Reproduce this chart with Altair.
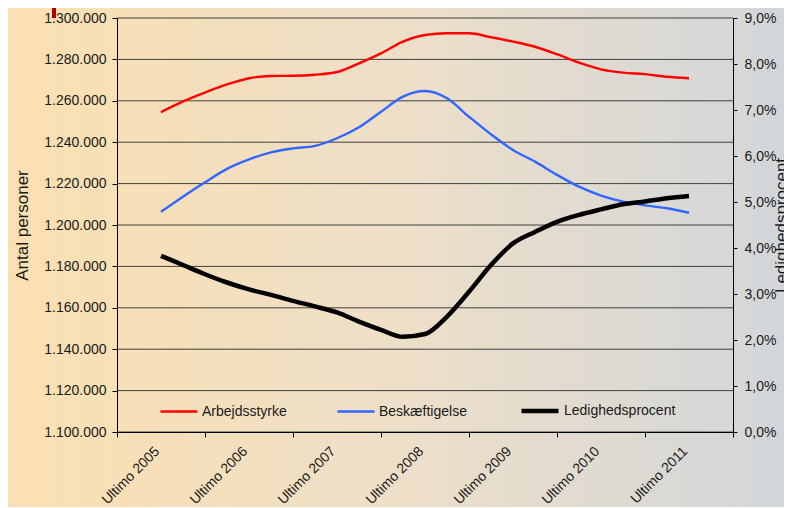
import altair as alt
import pandas as pd

# ---- data (quarterly points, 0 = Ultimo 2005) ----
quarters = [0, 0.25, 0.5, 0.75, 1, 1.25, 1.5, 1.75, 2, 2.25, 2.5, 2.75, 3,
            3.25, 3.5, 3.75, 4, 4.25, 4.5, 4.75, 5, 5.25, 5.5, 5.75, 6]
arbejdsstyrke = [1254500, 1259700, 1264000, 1267900, 1270900, 1272000, 1272100,
                 1272600, 1273900, 1278100, 1282900, 1288600, 1291800, 1292600,
                 1292600, 1290700, 1288600, 1286100, 1282500, 1278400, 1275200,
                 1273600, 1272900, 1271600, 1270900]
beskaeftigelse = [1206400, 1213700, 1220600, 1227100, 1231700, 1235100, 1237000,
                  1238200, 1241900, 1247200, 1254700, 1262000, 1264700, 1261200,
                  1252300, 1243800, 1236200, 1230600, 1224200, 1218500, 1214200,
                  1211300, 1209500, 1208100, 1205900]
ledighed = [0.0383, 0.0363, 0.0343, 0.0325, 0.0310, 0.0298, 0.0285, 0.0273,
            0.0260, 0.0240, 0.0222, 0.0207, 0.0213, 0.0251, 0.0305, 0.0363,
            0.0410, 0.0435, 0.0457, 0.0472, 0.0484, 0.0495, 0.0501, 0.0508,
            0.0513]

series_names = ["Arbejdsstyrke", "Beskæftigelse", "Ledighedsprocent"]
series_colors = ["#FF0000", "#3366FF", "#000000"]
series_widths = [2.4, 2.4, 4.5]
x_boundaries = [-0.5, 0.5, 1.5, 2.5, 3.5, 4.5, 5.5, 6.5]
left_ticks = [1100000, 1120000, 1140000, 1160000, 1180000, 1200000,
              1220000, 1240000, 1260000, 1280000, 1300000]
right_ticks = [0, 0.01, 0.02, 0.03, 0.04, 0.05, 0.06, 0.07, 0.08, 0.09]

df_left = pd.DataFrame({
    "t": quarters + quarters,
    "value": arbejdsstyrke + beskaeftigelse,
    "series": [series_names[0]] * len(quarters) + [series_names[1]] * len(quarters),
})
df_right = pd.DataFrame({
    "t": quarters,
    "value": ledighed,
    "series": [series_names[2]] * len(quarters),
})
df_grid = pd.DataFrame({"v": left_ticks})

W, H = 616, 414
PAD_L, PAD_T, PAD_R, PAD_B = 109, 10, 51, 75
FONT = "Liberation Sans"
LEFT_DOMAIN = [1100000, 1300000]

legend = alt.Legend(
    orient="none", legendX=42, legendY=372, direction="horizontal",
    title=None, padding=0, columnPadding=45, symbolType="stroke",
    symbolSize=1369, labelFontSize=14, labelOffset=3, labelColor="#1a1a1a",
    labelFont=FONT,
)
color_enc = alt.Color("series:N",
                      scale=alt.Scale(domain=series_names, range=series_colors),
                      legend=legend)
width_enc = alt.StrokeWidth("series:N",
                            scale=alt.Scale(type="ordinal", domain=series_names,
                                            range=series_widths),
                            legend=legend)

x_enc = alt.X(
    "t:Q",
    scale=alt.Scale(domain=[-0.5, 6.5], nice=False, zero=False),
    axis=alt.Axis(
        values=x_boundaries,
        labelExpr="datum.value < 6 ? 'Ultimo ' + (2005.5 + datum.value) : ''",
        labelOffset=35, labelAngle=315, tickSize=5, labelPadding=7,
        grid=False, title=None, labelFlush=False, labelOverlap=False,
        labelBound=False, labelFontSize=14, zindex=2,
    ),
)

background = alt.Chart(pd.DataFrame({"a": [0]})).mark_rect(
    fill=alt.Gradient(
        gradient="linear",
        stops=[alt.GradientStop(color="#FBE0B1", offset=0),
               alt.GradientStop(color="#EEDFC8", offset=0.5),
               alt.GradientStop(color="#D2D6DA", offset=1)],
        x1=0, x2=1, y1=0, y2=0,
    ),
    strokeWidth=0,
).encode(
    x=alt.value(-PAD_L), x2=alt.value(W + PAD_R),
    y=alt.value(-PAD_T), y2=alt.value(H + PAD_B),
)

marker = alt.Chart(pd.DataFrame({"a": [0]})).mark_rule(
    color="#B00000", strokeWidth=4
).encode(x=alt.value(-63), y=alt.value(-PAD_T), y2=alt.value(0))

grid = alt.Chart(df_grid).mark_rule(color="#404040", strokeWidth=1).encode(
    y=alt.Y("v:Q", scale=alt.Scale(domain=LEFT_DOMAIN, nice=False, zero=False),
            axis=None),
    x=alt.value(0), x2=alt.value(W),
)

left_lines = alt.Chart(df_left).mark_line(interpolate="monotone").encode(
    x=x_enc,
    y=alt.Y("value:Q",
            scale=alt.Scale(domain=LEFT_DOMAIN, nice=False, zero=False),
            axis=alt.Axis(orient="left", values=left_ticks, format=",d",
                          title="Antal personer", titleFontSize=17,
                          titleFontWeight="normal", titlePadding=12,
                          tickSize=5, labelPadding=6, labelFontSize=14,
                          grid=False, zindex=2)),
    color=color_enc,
    strokeWidth=width_enc,
    detail="series:N",
)

right_line = alt.Chart(df_right).mark_line(interpolate="monotone").encode(
    x=x_enc,
    y=alt.Y("value:Q",
            scale=alt.Scale(domain=[0, 0.09], nice=False, zero=False),
            axis=alt.Axis(orient="right", values=right_ticks, format=".1%",
                          title="Ledighedsprocent", titleFontSize=17,
                          titleFontWeight="normal", titleAngle=270,
                          titlePadding=15, tickSize=4, labelPadding=7,
                          labelFontSize=14, grid=False, zindex=2)),
    color=color_enc,
    strokeWidth=width_enc,
)

chart = alt.layer(background, marker, grid, left_lines, right_line).resolve_scale(
    y="independent"
).properties(
    width=W, height=H,
    autosize=alt.AutoSizeParams(type="none"),
    padding={"left": PAD_L, "top": PAD_T, "right": PAD_R, "bottom": PAD_B},
).configure_axis(
    labelFont=FONT, titleFont=FONT, labelColor="#1a1a1a", titleColor="#1a1a1a",
    domainColor="#000000", tickColor="#000000",
).configure_view(strokeWidth=0)

chart.save("out.html", embed_options={
    "renderer": "svg", "actions": False,
    "formatLocale": {"decimal": ",", "thousands": ".", "grouping": [3],
                     "currency": ["", " kr."]},
})
